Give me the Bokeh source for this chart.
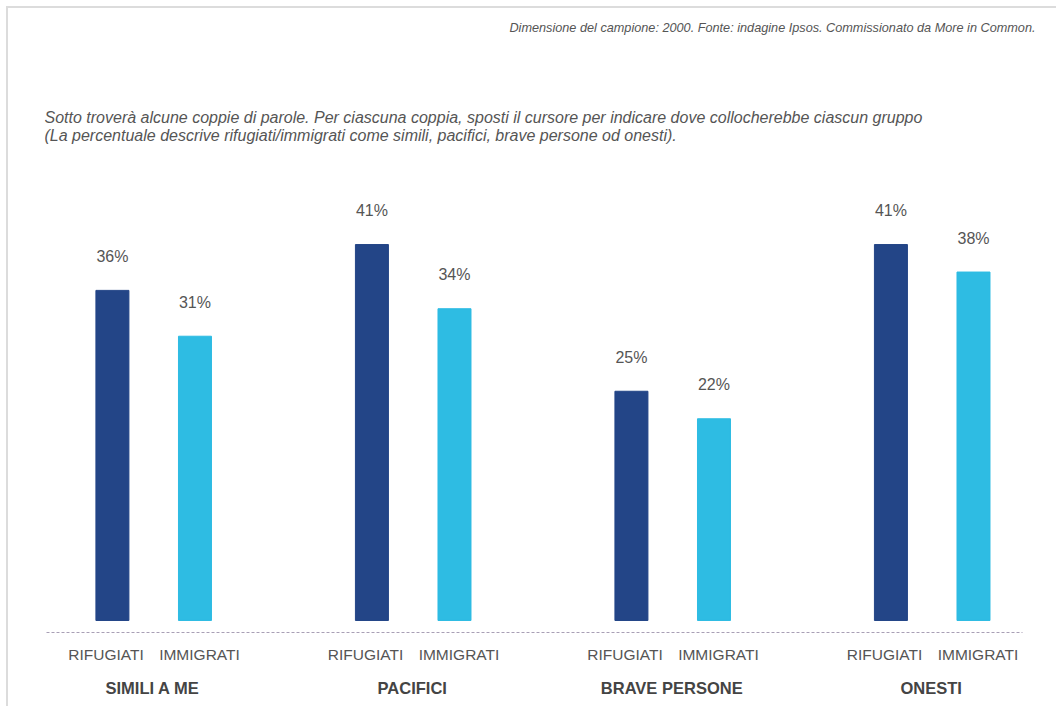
from bokeh.plotting import figure
from bokeh.models import FactorRange, Range1d, ColumnDataSource, LabelSet, Label
from bokeh.core.properties import value
from bokeh.transform import dodge
from bokeh.embed import file_html
from bokeh.resources import INLINE

# ---- data ----
groups = ["SIMILI A ME", "PACIFICI", "BRAVE PERSONE", "ONESTI"]
subgroups = ["RIFUGIATI", "IMMIGRATI"]
rifugiati = [36, 41, 25, 41]
immigrati = [31, 34, 22, 38]
color_rifugiati = "#234587"
color_immigrati = "#2EBCE3"

source_note = "Dimensione del campione: 2000. Fonte: indagine Ipsos. Commissionato da More in Common."
subtitle_1 = "Sotto troverà alcune coppie di parole. Per ciascuna coppia, sposti il cursore per indicare dove collocherebbe ciascun gruppo"
subtitle_2 = "(La percentuale descrive rifugiati/immigrati come simili, pacifici, brave persone od onesti)."

factors = [(g, s) for g in groups for s in subgroups]
src_r = ColumnDataSource(dict(x=[(g, subgroups[0]) for g in groups], v=rifugiati,
                              t=[f"{v}%" for v in rifugiati]))
src_i = ColumnDataSource(dict(x=[(g, subgroups[1]) for g in groups], v=immigrati,
                              t=[f"{v}%" for v in immigrati]))

W, H = 1050, 700
FL, FR, FT, FB = 36, 1031, 0, 624   # frame edges in canvas px
xr = FactorRange(*factors, factor_padding=0.558, group_padding=1.767,
                 range_padding=0.525, range_padding_units="absolute")
p = figure(
    width=W, height=H,
    x_range=xr,
    y_range=Range1d(-1.309, 66.74),
    output_backend="svg", toolbar_location=None,
    min_border_left=FL, min_border_right=W - FR, min_border_top=FT, min_border_bottom=H - FB,
    y_axis_location=None,
)
p.styles = {"margin-left": "6px", "margin-top": "6px",
            "border-top": "2px solid #dcdcdc", "border-left": "2px solid #dcdcdc"}
p.outline_line_color = None
p.xgrid.grid_line_color = None
p.ygrid.grid_line_color = None
p.background_fill_color = "white"
p.border_fill_color = "white"

D_R, D_I = 0.107, -0.075   # bar offset from its tick label
for src, col, d in ((src_r, color_rifugiati, D_R), (src_i, color_immigrati, D_I)):
    p.vbar(x=dodge("x", d, range=xr), top="v", bottom=0, width=0.55, color=col, source=src)
    p.add_layout(LabelSet(x=dodge("x", d, range=xr), y="v", text="t", source=src, y_offset=34,
                          text_align="center", text_baseline="middle",
                          text_font=value("Liberation Sans"), text_font_size=value("16px"),
                          text_color="#555555"))

ax = p.xaxis[0]
ax.bounds = (-0.492, 15.775)
ax.axis_line_color = "#a89fb5"
ax.axis_line_dash = "3 2"
ax.axis_line_width = 1
ax.major_tick_line_color = None
ax.minor_tick_line_color = None
ax.major_tick_out = 0
ax.major_tick_in = 0
ax.major_label_standoff = 13
ax.major_label_text_font = "Liberation Sans"
ax.major_label_text_font_size = "15.5px"
ax.major_label_text_color = "#555555"
ax.group_text_font = "Liberation Sans"
ax.group_text_font_size = "16.5px"
ax.group_text_font_style = "bold"
ax.group_text_color = "#444444"
ax.separator_line_color = None

p.add_layout(Label(x=991, y=605, x_units="screen", y_units="screen", text=source_note,
                   text_align="right", text_baseline="middle", text_font="Liberation Sans",
                   text_font_size="12.7px", text_font_style="italic", text_color="#555555"))
for txt, yy in ((subtitle_1, 515), (subtitle_2, 497)):
    p.add_layout(Label(x=0, y=yy, x_units="screen", y_units="screen", text=txt,
                       text_align="left", text_baseline="middle", text_font="Liberation Sans",
                       text_font_size="16px", text_font_style="italic", text_color="#555555"))

open("out.html", "w").write(file_html(p, INLINE))
